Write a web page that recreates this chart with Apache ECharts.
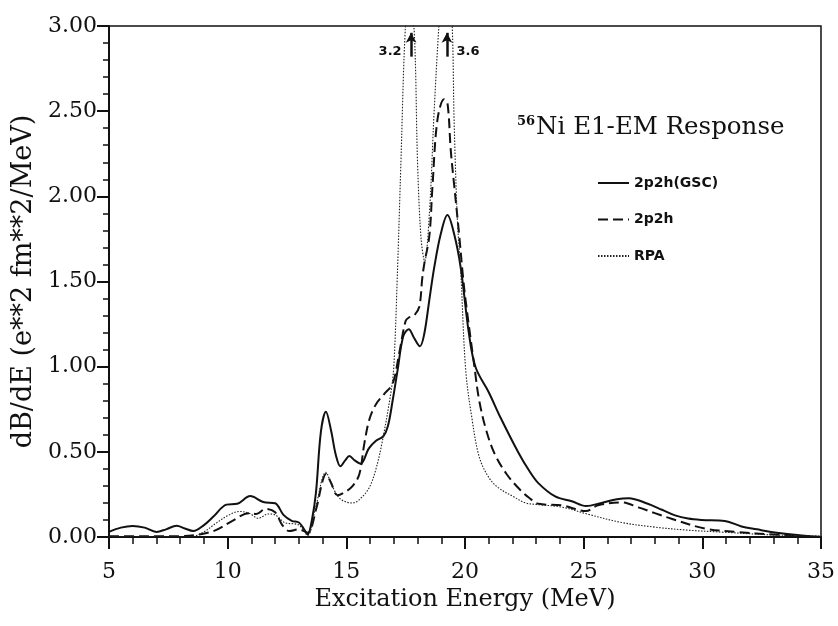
<!DOCTYPE html>
<html><head><meta charset="utf-8">
<script src="https://cdn.jsdelivr.net/npm/echarts@6/dist/echarts.min.js"></script>
<style>html,body{margin:0;padding:0;background:#fff}#c{width:838px;height:626px}</style>
</head><body><div id="c"></div>
<script>
// Excitation energies (MeV) and dB/dE values for each curve
const gscE = [5.0,5.5,6.0,6.5,7.0,7.4,7.85,8.2,8.55,9.0,9.4,9.95,10.4,10.95,11.5,12.0,12.35,12.7,13.0,13.2,13.37,13.55,13.72,13.93,14.14,14.35,14.56,14.75,14.95,15.13,15.35,15.6,15.95,16.25,16.55,16.75,16.95,17.16,17.4,17.63,17.85,18.1,18.28,18.49,18.7,18.98,19.26,19.54,19.82,20.17,20.45,21.0,21.5,22.27,22.7,23.1,23.8,24.5,25.1,25.75,26.4,26.9,27.7,28.3,28.85,29.4,29.97,30.95,31.65,32.3,32.9,34.0,35.0];
const gscB = [0.03,0.055,0.065,0.055,0.03,0.045,0.066,0.05,0.035,0.07,0.12,0.19,0.195,0.24,0.205,0.198,0.13,0.095,0.085,0.05,0.015,0.1,0.26,0.62,0.735,0.63,0.48,0.415,0.45,0.475,0.45,0.43,0.52,0.565,0.59,0.65,0.8,0.98,1.18,1.22,1.17,1.12,1.19,1.385,1.58,1.78,1.89,1.78,1.58,1.19,0.995,0.85,0.7,0.49,0.39,0.315,0.238,0.21,0.182,0.2,0.222,0.228,0.195,0.16,0.127,0.108,0.1,0.094,0.062,0.045,0.03,0.012,0.0];

const p2hE = [5.0,6.0,7.0,8.0,8.8,9.5,10.2,10.9,11.2,11.6,12.0,12.3,12.6,13.0,13.37,13.72,14.0,14.14,14.35,14.63,14.9,15.27,15.55,15.76,15.97,16.25,16.6,16.95,17.23,17.5,17.65,17.85,18.07,18.2,18.28,18.5,18.63,18.84,19.12,19.26,19.4,19.54,19.75,19.9,20.03,20.4,20.6,20.9,21.25,21.75,22.3,22.7,23.1,24.1,25.1,25.6,26.6,27.3,28.0,28.7,30.1,31.5,33.0,35.0];
const p2hB = [0.005,0.005,0.005,0.005,0.015,0.04,0.095,0.14,0.135,0.165,0.145,0.07,0.035,0.045,0.025,0.16,0.33,0.37,0.32,0.245,0.26,0.3,0.37,0.55,0.69,0.78,0.84,0.9,1.08,1.27,1.29,1.3,1.35,1.52,1.6,1.77,2.06,2.45,2.57,2.55,2.27,2.07,1.78,1.55,1.385,0.996,0.8,0.624,0.488,0.37,0.28,0.23,0.195,0.185,0.152,0.186,0.203,0.174,0.14,0.107,0.05,0.029,0.015,0.0];

const rpaE = [5.0,8.5,9.0,9.5,10.0,10.5,10.9,11.3,11.7,12.0,12.4,13.0,13.37,13.7,14.14,14.4,14.7,15.0,15.27,15.7,16.0,16.25,16.5,16.88,17.0,17.14,17.3,17.48,17.65,17.86,18.0,18.15,18.3,18.5,18.7,18.9,19.2,19.46,19.54,19.68,19.82,20.03,20.3,20.6,21.0,21.4,22.0,22.55,23.1,24.1,25.2,26.6,28.0,29.4,30.8,33.0,35.0];
const rpaB = [0.003,0.003,0.03,0.08,0.125,0.15,0.14,0.11,0.135,0.13,0.085,0.07,0.01,0.17,0.38,0.3,0.23,0.205,0.2,0.24,0.3,0.4,0.55,0.85,1.0,1.5,2.2,2.97,3.2,2.97,2.2,1.75,1.62,1.9,2.5,3.0,3.6,3.0,2.45,1.86,1.56,0.98,0.69,0.47,0.35,0.29,0.24,0.2,0.19,0.175,0.133,0.085,0.058,0.04,0.029,0.012,0.005];

// off-scale peak annotations: [energy, label]
const peakMarks = [[17.73, '3.2'], [19.24, '3.6']];

const zip = (a, b) => a.map((x, i) => [x, b[i]]);
const serif = 'DejaVu Serif';
const ink = '#111';

const chart = echarts.init(document.getElementById('c'), null, {renderer: 'canvas'});
chart.setOption({
  animation: false,
  backgroundColor: '#fff',
  title: {
    left: 512, top: 110,
    text: '{sup|56}{main|Ni E1-EM Response}',
    textStyle: {
      fontWeight: 'normal',
      rich: {
        sup: {fontFamily: serif, fontSize: 13, fontWeight: 'bold', color: ink, verticalAlign: 'top', padding: [0, 1, 12, 0]},
        main: {fontFamily: serif, fontSize: 24.5, fontWeight: 'normal', color: ink}
      }
    }
  },
  legend: {
    orient: 'vertical', left: 592, top: 171,
    itemWidth: 31, itemHeight: 14, itemGap: 22.5,
    itemStyle: {opacity: 0},
    textStyle: {fontFamily: 'DejaVu Sans', fontWeight: 'bold', fontSize: 14, color: ink},
    data: ['2p2h(GSC)', '2p2h', 'RPA']
  },
  grid: {left: 109, right: 16, top: 26, bottom: 89, show: true, borderColor: ink, borderWidth: 1.5},
  xAxis: {
    type: 'value', min: 5, max: 35, interval: 5,
    name: 'Excitation Energy (MeV)', nameLocation: 'middle', nameGap: 50,
    nameTextStyle: {fontFamily: serif, fontSize: 24, color: ink},
    axisLine: {show: true, onZero: false, lineStyle: {color: ink, width: 2}},
    axisTick: {show: true, length: 12, lineStyle: {color: ink, width: 2}},
    minorTick: {show: true, splitNumber: 5, length: 7, lineStyle: {color: ink, width: 1.5}},
    splitLine: {show: false},
    axisLabel: {fontFamily: serif, fontSize: 22, color: ink, margin: 24}
  },
  yAxis: {
    type: 'value', min: 0, max: 3, interval: 0.5,
    name: 'dB/dE (e**2 fm**2/MeV)', nameLocation: 'middle', nameGap: 66,
    nameTextStyle: {fontFamily: serif, fontSize: 27, color: ink},
    axisLine: {show: true, lineStyle: {color: ink, width: 2}},
    axisTick: {show: true, length: 12, lineStyle: {color: ink, width: 2}},
    minorTick: {show: true, splitNumber: 5, length: 6, lineStyle: {color: ink, width: 1.5}},
    splitLine: {show: false},
    axisLabel: {fontFamily: serif, fontSize: 22, color: ink, margin: 12, formatter: v => v.toFixed(2)}
  },
  series: [
    {
      name: '2p2h(GSC)', type: 'line', data: zip(gscE, gscB), showSymbol: false, symbol: 'none',
      smooth: 0.35, clip: true,
      lineStyle: {color: ink, width: 2, type: 'solid'}, itemStyle: {color: ink}
    },
    {
      name: '2p2h', type: 'line', data: zip(p2hE, p2hB), showSymbol: false, symbol: 'none',
      smooth: 0.35, clip: true,
      lineStyle: {color: ink, width: 2, type: [10, 5]}, itemStyle: {color: ink}
    },
    {
      name: 'RPA', type: 'line', data: zip(rpaE, rpaB), showSymbol: false, symbol: 'none',
      smooth: 0.35, clip: true,
      lineStyle: {color: '#222', width: 1.1, type: [1.5, 1.5]}, itemStyle: {color: '#222'},
      markLine: {
        silent: true, symbol: ['none', 'arrow'], symbolSize: [8, 10],
        lineStyle: {color: ink, width: 2.5, type: 'solid'},
        label: {show: false},
        data: peakMarks.map(p => [{coord: [p[0], 2.82]}, {coord: [p[0], 2.96]}])
      },
      markPoint: {
        silent: true, symbol: 'circle', symbolSize: 1, itemStyle: {color: 'rgba(0,0,0,0)'},
        data: peakMarks.map((p, i) => ({
          coord: [p[0], 2.85], value: p[1],
          label: {show: true, formatter: p[1], position: i === 0 ? 'left' : 'right', distance: 9,
            fontFamily: 'DejaVu Sans', fontWeight: 'bold', fontSize: 13, color: ink}
        }))
      }
    }
  ]
});
</script>
</body></html>
